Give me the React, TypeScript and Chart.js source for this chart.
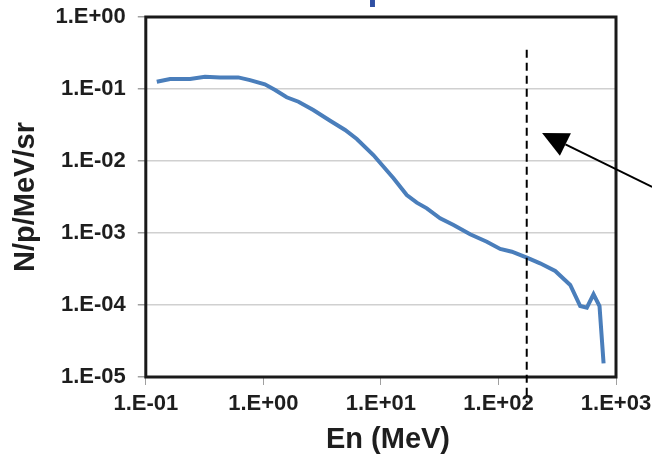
import { useEffect, useRef } from 'react';
import { Chart, registerables } from 'chart.js';

Chart.register(...registerables);

// Neutron energy (MeV) and yield (N/p/MeV/sr)
const energyMeV = [
  0.124, 0.161, 0.238, 0.319, 0.428, 0.612, 0.770, 1.03, 1.26, 1.58,
  1.99, 2.66, 3.70, 4.96, 6.24, 8.63, 12.8, 16.6, 20.2, 24.6,
  31.9, 41.5, 57.4, 79.6, 103.5, 130, 174.5, 226, 304, 408,
  496, 565, 644, 724, 784,
];
const yieldPerSr = [
  0.126, 0.138, 0.138, 0.148, 0.145, 0.145, 0.133, 0.116, 0.0969, 0.0767,
  0.0666, 0.0511, 0.0363, 0.0270, 0.0202, 0.0121, 0.00575, 0.00337, 0.00264, 0.00220,
  0.00160, 0.00129, 0.000959, 0.000757, 0.000600, 0.000550, 0.000454, 0.000379, 0.000297, 0.000190,
  0.0000969, 0.0000917, 0.000141, 0.0000969, 0.0000155,
];

const xTicks = [0.1, 1, 10, 100, 1000];
const xTickLabels = ['1.E-01', '1.E+00', '1.E+01', '1.E+02', '1.E+03'];
const yTicks = [1e-5, 1e-4, 1e-3, 1e-2, 1e-1, 1];
const yTickLabels = ['1.E-05', '1.E-04', '1.E-03', '1.E-02', '1.E-01', '1.E+00'];

// Dashed cut-off marker (energy, and its vertical extent in yield units)
const cutoffEnergy = 174;
const cutoffTop = 0.35;
const cutoffBottom = 4.4e-6;

// Pointer arrow: head and tail in data units
const arrowHead = { x: 235, y: 0.0245 };
const arrowTail = { x: 2030, y: 0.00436 };

const titleText = 'p';
const xTitle = 'En (MeV)';
const yTitle = 'N/p/MeV/sr';

const FONT = '"Liberation Sans", Arial, sans-serif';
const TEXT = '#1e1e1e';

const decorations = {
  id: 'decorations',
  beforeDatasetsDraw(chart: any) {
    const { ctx, chartArea: a } = chart;
    ctx.save();
    ctx.strokeStyle = '#1a1a1a';
    ctx.lineWidth = 3;
    ctx.strokeRect(a.left, a.top, a.right - a.left, a.bottom - a.top);
    ctx.restore();
  },
  afterDraw(chart: any) {
    const { ctx, chartArea: a, scales } = chart;
    const xs = scales.x;
    const ys = scales.y;
    ctx.save();

    // cut-off line
    const cx = xs.getPixelForValue(cutoffEnergy);
    ctx.strokeStyle = '#000';
    ctx.lineWidth = 2;
    ctx.setLineDash([8, 5]);
    ctx.beginPath();
    ctx.moveTo(cx, ys.getPixelForValue(cutoffTop));
    ctx.lineTo(cx, ys.getPixelForValue(cutoffBottom));
    ctx.stroke();
    ctx.setLineDash([]);

    // arrow
    const hx = xs.getPixelForValue(arrowHead.x);
    const hy = ys.getPixelForValue(arrowHead.y);
    const tx = xs.getPixelForValue(arrowTail.x);
    const ty = ys.getPixelForValue(arrowTail.y);
    const ang = Math.atan2(hy - ty, hx - tx);
    const len = 26;
    const half = 12.5;
    const bx = hx - Math.cos(ang) * len;
    const by = hy - Math.sin(ang) * len;
    ctx.lineWidth = 2;
    ctx.beginPath();
    ctx.moveTo(tx, ty);
    ctx.lineTo(bx, by);
    ctx.stroke();
    ctx.fillStyle = '#000';
    ctx.beginPath();
    ctx.moveTo(hx, hy);
    ctx.lineTo(bx - Math.sin(ang) * half, by + Math.cos(ang) * half);
    ctx.lineTo(bx + Math.sin(ang) * half, by - Math.cos(ang) * half);
    ctx.closePath();
    ctx.fill();

    // axis titles
    ctx.fillStyle = TEXT;
    ctx.font = `bold 29px ${FONT}`;
    ctx.textAlign = 'center';
    ctx.textBaseline = 'middle';
    ctx.fillText(xTitle, 388, 440);
    ctx.translate(26, (a.top + a.bottom) / 2);
    ctx.rotate(-Math.PI / 2);
    ctx.fillText(yTitle, 0, 0);
    ctx.restore();

    // chart title (only its lower part falls on the canvas)
    ctx.save();
    ctx.fillStyle = '#2f4fa3';
    ctx.font = `bold 36px ${FONT}`;
    ctx.textAlign = 'left';
    ctx.textBaseline = 'alphabetic';
    ctx.fillText(titleText, 367.5, -1);
    ctx.restore();
  },
};

export default function App() {
  const ref = useRef<HTMLCanvasElement | null>(null);

  useEffect(() => {
    if (!ref.current) return;
    const chart = new Chart(ref.current, {
      type: 'line',
      data: {
        datasets: [
          {
            data: energyMeV.map((x, i) => ({ x, y: yieldPerSr[i] })),
            borderColor: '#4a7ebb',
            borderWidth: 4,
            pointRadius: 0,
            tension: 0,
            fill: false,
          },
        ],
      },
      options: {
        responsive: false,
        animation: false,
        devicePixelRatio: 1,
        layout: { padding: { top: 17, right: 36, left: 0, bottom: 0 } },
        plugins: { legend: { display: false }, tooltip: { enabled: false } },
        scales: {
          x: {
            type: 'logarithmic',
            min: 0.1,
            max: 1000,
            afterBuildTicks: (s: any) => {
              s.ticks = xTicks.map((v) => ({ value: v }));
            },
            afterFit: (s: any) => {
              s.height = 82;
              s.paddingLeft = 0;
              s.paddingRight = 0;
            },
            ticks: {
              callback: (_v: any, i: number) => xTickLabels[i],
              font: { family: FONT, size: 22, weight: 'bold' },
              color: TEXT,
              padding: 6,
              maxRotation: 0,
              autoSkip: false,
            },
            grid: {
              drawOnChartArea: false,
              drawTicks: true,
              tickLength: 8,
              tickColor: '#a0a0a0',
            },
            border: { display: false },
          },
          y: {
            type: 'logarithmic',
            min: 1e-5,
            max: 1,
            afterBuildTicks: (s: any) => {
              s.ticks = yTicks.map((v) => ({ value: v }));
            },
            afterFit: (s: any) => {
              s.width = 145.8;
              s.paddingTop = 0;
              s.paddingBottom = 0;
            },
            ticks: {
              callback: (_v: any, i: number) => yTickLabels[i],
              font: { family: FONT, size: 22, weight: 'bold' },
              color: TEXT,
              padding: 12,
              autoSkip: false,
            },
            grid: {
              color: '#d0d0d0',
              lineWidth: 1.5,
              drawTicks: true,
              tickLength: 8,
              tickColor: '#a0a0a0',
            },
            border: { display: false },
          },
        },
      },
      plugins: [decorations],
    } as any);
    return () => chart.destroy();
  }, []);

  return (
    <div style={{ position: 'fixed', left: 0, top: 0, width: 652, height: 459, background: '#fff' }}>
      <canvas ref={ref} width={652} height={459} style={{ width: 652, height: 459, display: 'block' }} />
    </div>
  );
}
